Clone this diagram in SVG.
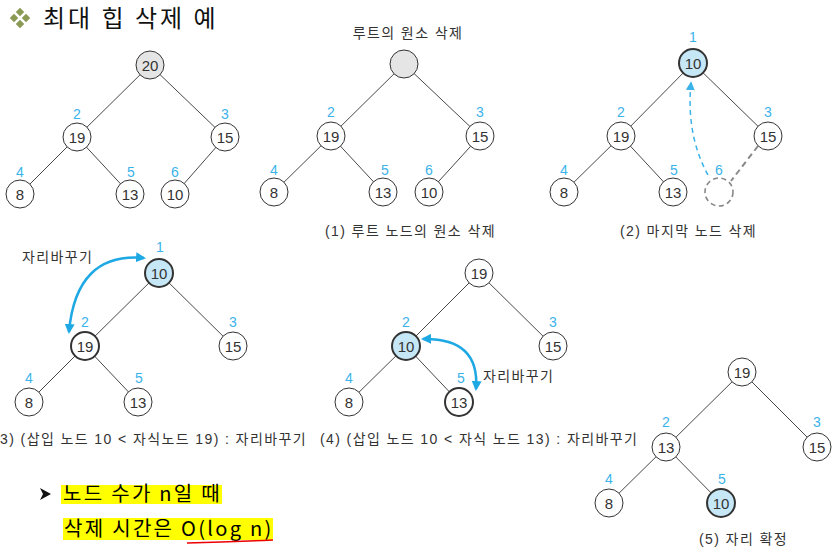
<svg xmlns="http://www.w3.org/2000/svg" width="838" height="558" viewBox="0 0 838 558">
<style>
.n{fill:#fff;stroke:#333;stroke-width:1}
.g{fill:#e5e5e5}
.b{fill:#c6e7f6;stroke-width:2}
.k{stroke-width:2}
.e{stroke:#333;stroke-width:0.9;fill:none}
.t{font-family:"Liberation Sans","Noto Sans CJK KR",sans-serif;font-size:15px;fill:#333;text-anchor:middle;dominant-baseline:central}
.i{font-family:"Liberation Sans","Noto Sans CJK KR",sans-serif;font-size:14px;fill:#3bb3ea;text-anchor:middle;dominant-baseline:central}
.c{font-family:"Liberation Sans","Noto Sans CJK KR",sans-serif;font-size:14px;fill:#333;letter-spacing:1.4px}
.h{font-family:"Noto Sans CJK KR","Liberation Sans",sans-serif;font-size:20px;fill:#000;letter-spacing:2.3px}
</style>
<defs>
<marker id="ah" viewBox="0 0 10 10" refX="8" refY="5" markerWidth="4" markerHeight="4" orient="auto-start-reverse" markerUnits="strokeWidth"><path d="M0,0 L10,5 L0,10 z" fill="#1ea8e4"/></marker>
<marker id="ahd" viewBox="0 0 10 10" refX="8" refY="5" markerWidth="6" markerHeight="6" orient="auto" markerUnits="strokeWidth"><path d="M0,0 L10,5 L0,10 z" fill="#3bb3ea"/></marker>
</defs>

<g id="title">
<g fill="#8a9a55">
<rect x="17" y="9" width="6" height="6" transform="rotate(45 20 12)"/>
<rect x="11" y="15" width="6" height="6" transform="rotate(45 14 18)"/>
<rect x="23" y="15" width="6" height="6" transform="rotate(45 26 18)"/>
<rect x="17" y="21" width="6" height="6" transform="rotate(45 20 24)"/>
</g>
<text x="43" y="27" font-family="'Noto Sans CJK KR',sans-serif" font-size="24" letter-spacing="3" fill="#111">최대 힙 삭제 예</text>
</g>

<g id="connectors">
<!-- tree 1 -->
<path class="e" d="M150,65 L77,137 M150,65 L225,137 M77,137 L20,194 M77,137 L130,194 M225,137 L175,194"/>
<!-- tree 2 -->
<path class="e" d="M404,64 L331,136 M404,64 L480,136 M331,136 L274,192 M331,136 L383,192 M480,136 L429,192"/>
<!-- tree 3 -->
<path class="e" d="M693,63 L621,136 M693,63 L768,136 M621,136 L564,192 M621,136 L673,192"/>
<path d="M758,146 L731,181" stroke="#888" stroke-width="2" stroke-dasharray="6,4" fill="none"/>
<path d="M708,175 Q686,135 691,83" stroke="#3bb3ea" stroke-width="1.5" stroke-dasharray="5,4" fill="none" marker-end="url(#ahd)"/>
<!-- tree 4 -->
<path class="e" d="M159,273 L85,346 M159,273 L233,346 M85,346 L29,402 M85,346 L138,402"/>
<path d="M144,258 Q76,252 69,332" stroke="#1ea8e4" stroke-width="2.5" fill="none" marker-start="url(#ah)" marker-end="url(#ah)"/>
<!-- tree 5 -->
<path class="e" d="M479,273 L406,346 M479,273 L553,346 M406,346 L349,402 M406,346 L459,402"/>
<path d="M423,339 Q480,338 476,389" stroke="#1ea8e4" stroke-width="2.5" fill="none" marker-start="url(#ah)" marker-end="url(#ah)"/>
<!-- tree 6 -->
<path class="e" d="M742,372 L666,447 M742,372 L817,447 M666,447 L609,503 M666,447 L721,503"/>
</g>

<g id="tree1">
<circle class="n g" cx="150" cy="65" r="14"/><text class="t" x="150" y="65" fill="#111">20</text>
<circle class="n" cx="77" cy="137" r="14"/><text class="t" x="77" y="137">19</text>
<circle class="n" cx="225" cy="137" r="14"/><text class="t" x="225" y="137">15</text>
<circle class="n" cx="20" cy="194" r="14"/><text class="t" x="20" y="194">8</text>
<circle class="n" cx="130" cy="194" r="14"/><text class="t" x="130" y="194">13</text>
<circle class="n" cx="175" cy="194" r="14"/><text class="t" x="175" y="194">10</text>
<text class="i" x="77" y="114">2</text><text class="i" x="225" y="114">3</text>
<text class="i" x="20" y="172">4</text><text class="i" x="131" y="172">5</text><text class="i" x="175" y="172">6</text>
</g>

<g id="tree2">
<text class="c" x="408" y="38" text-anchor="middle">루트의 원소 삭제</text>
<circle class="n g" cx="404" cy="64" r="14"/>
<circle class="n" cx="331" cy="136" r="14"/><text class="t" x="331" y="136">19</text>
<circle class="n" cx="480" cy="136" r="14"/><text class="t" x="480" y="136">15</text>
<circle class="n" cx="274" cy="192" r="14"/><text class="t" x="274" y="192">8</text>
<circle class="n" cx="383" cy="192" r="14"/><text class="t" x="383" y="192">13</text>
<circle class="n" cx="429" cy="192" r="14"/><text class="t" x="429" y="192">10</text>
<text class="i" x="331" y="112">2</text><text class="i" x="480" y="112">3</text>
<text class="i" x="274" y="170">4</text><text class="i" x="385" y="170">5</text><text class="i" x="429" y="170">6</text>
<text class="c" x="325" y="236">(1) 루트 노드의 원소 삭제</text>
</g>

<g id="tree3">
<circle class="n b" cx="693" cy="63" r="14"/><text class="t" x="693" y="63">10</text>
<circle class="n" cx="621" cy="136" r="14"/><text class="t" x="621" y="136">19</text>
<circle class="n" cx="768" cy="136" r="14"/><text class="t" x="768" y="136">15</text>
<circle class="n" cx="564" cy="192" r="14"/><text class="t" x="564" y="192">8</text>
<circle class="n" cx="673" cy="192" r="14"/><text class="t" x="673" y="192">13</text>
<circle cx="719" cy="192" r="14" fill="none" stroke="#888" stroke-width="1.6" stroke-dasharray="5,3.5"/>
<text class="i" x="693" y="37">1</text>
<text class="i" x="621" y="112">2</text><text class="i" x="768" y="112">3</text>
<text class="i" x="564" y="170">4</text><text class="i" x="674" y="170">5</text><text class="i" x="719" y="170">6</text>
<text class="c" x="620" y="236">(2) 마지막 노드 삭제</text>
</g>

<g id="tree4">
<text class="c" x="22" y="262">자리바꾸기</text>
<circle class="n b" cx="159" cy="273" r="14"/><text class="t" x="159" y="273">10</text>
<circle class="n k" cx="85" cy="346" r="14"/><text class="t" x="85" y="346">19</text>
<circle class="n" cx="233" cy="346" r="14"/><text class="t" x="233" y="346">15</text>
<circle class="n" cx="29" cy="402" r="14"/><text class="t" x="29" y="402">8</text>
<circle class="n" cx="138" cy="402" r="14"/><text class="t" x="138" y="402">13</text>
<text class="i" x="160" y="247">1</text>
<text class="i" x="85" y="322">2</text><text class="i" x="233" y="322">3</text>
<text class="i" x="29" y="378">4</text><text class="i" x="139" y="378">5</text>
<text class="c" x="-6" y="444">(3) (삽입 노드 10 &lt; 자식노드 19) : 자리바꾸기</text>
</g>

<g id="tree5">
<circle class="n" cx="479" cy="273" r="14"/><text class="t" x="479" y="273">19</text>
<circle class="n b" cx="406" cy="346" r="14"/><text class="t" x="406" y="346">10</text>
<circle class="n" cx="553" cy="346" r="14"/><text class="t" x="553" y="346">15</text>
<circle class="n" cx="349" cy="402" r="14"/><text class="t" x="349" y="402">8</text>
<circle class="n k" cx="459" cy="402" r="14"/><text class="t" x="459" y="402">13</text>
<text class="i" x="406" y="322">2</text><text class="i" x="553" y="322">3</text>
<text class="i" x="349" y="378">4</text><text class="i" x="461" y="378">5</text>
<text class="c" x="483" y="381">자리바꾸기</text>
<text class="c" x="320" y="444">(4) (삽입 노드 10 &lt; 자식 노드 13) : 자리바꾸기</text>
</g>

<g id="tree6">
<circle class="n" cx="742" cy="372" r="14"/><text class="t" x="742" y="372">19</text>
<circle class="n" cx="666" cy="447" r="14"/><text class="t" x="666" y="447">13</text>
<circle class="n" cx="817" cy="447" r="14"/><text class="t" x="817" y="447">15</text>
<circle class="n" cx="609" cy="503" r="14"/><text class="t" x="609" y="503">8</text>
<circle class="n b" cx="721" cy="503" r="14"/><text class="t" x="721" y="503">10</text>
<text class="i" x="666" y="422">2</text><text class="i" x="817" y="422">3</text>
<text class="i" x="609" y="479">4</text><text class="i" x="722" y="479">5</text>
<text class="c" x="699" y="544">(5) 자리 확정</text>
</g>

<g id="note">
<path d="M40,488 L51,494 L40,500 L43,494 z" fill="#111"/>
<rect x="61" y="485" width="161" height="19" fill="#ffff00"/>
<rect x="63" y="518" width="210" height="22" fill="#ffff00"/>
<text class="h" x="63" y="501">노드 수가 n일 때</text>
<text class="h" x="64" y="536">삭제 시간은 O(log n)</text>
<path d="M187,543 Q230,542 273,540" stroke="#e00" stroke-width="1.5" fill="none"/>
</g>
</svg>
